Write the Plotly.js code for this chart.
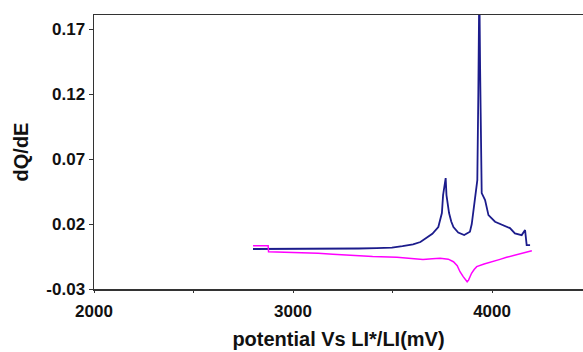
<!DOCTYPE html>
<html>
<head>
<meta charset="utf-8">
<script src="https://cdn.plot.ly/plotly-3.0.1.min.js"></script>
<style>html,body{margin:0;padding:0;background:#fff;}#chart{width:583px;height:352px;}</style>
</head>
<body>
<div id="chart"></div>
<script>
// Charge curve (blue)
const chargeX = [2799, 2900, 3000, 3100, 3200, 3327, 3330, 3420, 3497, 3550, 3603, 3640, 3671, 3700, 3730, 3748, 3754, 3762, 3767, 3771, 3784, 3795, 3806, 3830, 3860, 3889, 3898, 3905, 3920, 3926, 3931, 3936, 3940, 3943, 3946, 3948, 3965, 3982, 4015, 4055, 4090, 4115, 4149, 4166, 4174, 4191];
const chargeY = [0.0008, 0.0008, 0.0008, 0.0008, 0.0008, 0.0008, 0.0012, 0.0014, 0.0018, 0.0030, 0.0044, 0.0062, 0.0095, 0.0125, 0.0177, 0.0285, 0.0423, 0.0520, 0.0554, 0.0423, 0.0285, 0.0220, 0.0177, 0.0135, 0.0115, 0.0141, 0.0200, 0.0285, 0.0438, 0.0538, 0.1200, 0.2050, 0.1400, 0.0730, 0.0500, 0.0438, 0.0385, 0.0269, 0.0218, 0.0192, 0.0169, 0.0128, 0.0115, 0.0154, 0.0038, 0.0038];
// Discharge curve (magenta)
const dischargeX = [2799, 2875, 2877, 3000, 3126, 3200, 3320, 3400, 3522, 3600, 3653, 3700, 3739, 3780, 3806, 3825, 3839, 3855, 3868, 3875, 3882, 3897, 3910, 3923, 3960, 4005, 4040, 4073, 4100, 4124, 4160, 4200];
const dischargeY = [0.0033, 0.0033, -0.0013, -0.0018, -0.0025, -0.0032, -0.0046, -0.0050, -0.0056, -0.0064, -0.0072, -0.0068, -0.0064, -0.0070, -0.0090, -0.0120, -0.0167, -0.0205, -0.0232, -0.0244, -0.0232, -0.0179, -0.0150, -0.0128, -0.0108, -0.0090, -0.0072, -0.0056, -0.0045, -0.0031, -0.0018, -0.0005];
const yTicks = [-0.03, 0.02, 0.07, 0.12, 0.17];
const yTickText = ['-0.03', '0.02', '0.07', '0.12', '0.17'];
const xTicks = [2000, 3000, 4000];
const xTickText = ['2000', '3000', '4000'];

const traces = [
  {x: chargeX, y: chargeY, type: 'scatter', mode: 'lines', line: {color: '#1c1c8c', width: 1.8}, showlegend: false},
  {x: dischargeX, y: dischargeY, type: 'scatter', mode: 'lines', line: {color: '#ff00ff', width: 1.5}, showlegend: false}
];

const fontFam = 'Liberation Sans, Arial, sans-serif';
const layout = {
  width: 583, height: 352,
  margin: {l: 94, r: 0, t: 15, b: 63, pad: 0},
  paper_bgcolor: '#fff', plot_bgcolor: '#fff',
  xaxis: {
    range: [2000, 4457], showgrid: false, zeroline: false,
    showline: true, linecolor: '#333', linewidth: 1.5, mirror: true,
    tickmode: 'array', tickvals: xTicks, ticktext: xTickText,
    ticks: 'outside', ticklen: 2, tickcolor: '#333',
    ticklabelstandoff: 4,
    minor: {tickmode: 'array', tickvals: [2500, 3500], ticks: 'outside', ticklen: 2, tickcolor: '#333'},
    tickfont: {family: fontFam, size: 17, color: '#111', weight: 'bold'},
    title: {text: '<b>potential Vs LI*/LI(mV)</b>', font: {family: fontFam, size: 20, color: '#111'}, standoff: 12}
  },
  yaxis: {
    range: [-0.03, 0.181], showgrid: false, zeroline: false,
    showline: true, linecolor: '#333', linewidth: 1.5,
    tickmode: 'array', tickvals: yTicks, ticktext: yTickText,
    ticks: 'outside', ticklen: 4, tickcolor: '#333',
    tickfont: {family: fontFam, size: 17, color: '#111', weight: 'bold'},
    title: {text: '<b>dQ/dE</b>', font: {family: fontFam, size: 20, color: '#111'}, standoff: 12}
  }
};

Plotly.newPlot('chart', traces, layout, {staticPlot: true, displayModeBar: false});
</script>
</body>
</html>
